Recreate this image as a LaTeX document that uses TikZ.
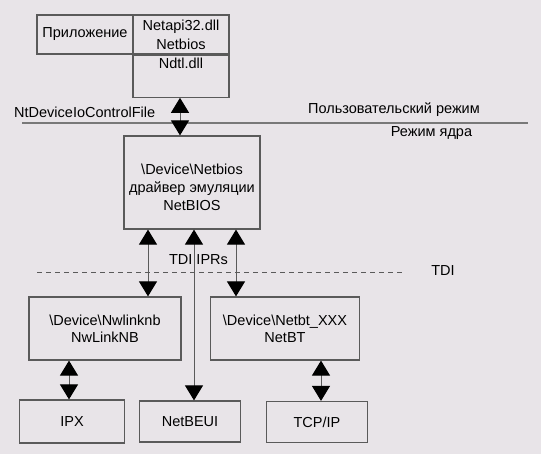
\documentclass[tikz,border=0pt]{standalone}
\usepackage{fontspec}
\setmainfont{Liberation Sans}
\usetikzlibrary{arrows.meta,positioning}
\definecolor{bg}{HTML}{E8E4E8}
\definecolor{edge}{HTML}{5A5A5A}
\definecolor{modeline}{HTML}{787878}
\begin{document}
\begin{tikzpicture}[x=1pt, y=-1pt,
    every node/.style={font=\fontsize{14.5}{17}\selectfont, align=center, inner sep=0pt},
    box/.style={draw=edge, line width=1.2pt},
    link/.style={draw=edge, line width=1pt, {Triangle[width=18pt,length=15pt,black]}-{Triangle[width=18pt,length=15pt,black]}}]
    \fill[bg] (0,0) rectangle (541,454);
    \useasboundingbox (0,0) rectangle (541,454);

    \node (app) [box, minimum width=96, minimum height=39] at (85,34.5) {Приложение};
    \node (netapi) [box, minimum width=96, minimum height=39, font=\fontsize{14.5}{19}\selectfont]
        at (181,34.5) {Netapi32.dll\\Netbios};
    \node (ndtl) [box, minimum width=96, minimum height=42, below=0pt of netapi,
        label={[anchor=north, yshift=-3pt]north:Ndtl.dll}] {};
    \node (driver) [box, minimum width=136, minimum height=93, at={(192,182.5)},
        label={[yshift=-5pt, font=\fontsize{14.5}{18}\selectfont]center:\textbackslash Device\textbackslash Netbios\\драйвер эмуляции\\NetBIOS}] {};
    \node (nwlink) [box, minimum width=152, minimum height=63] at (105,328.5)
        {\textbackslash Device\textbackslash Nwlinknb\\NwLinkNB};
    \node (netbt) [box, minimum width=149, minimum height=63] at (285,328.5)
        {\textbackslash Device\textbackslash Netbt\_XXX\\NetBT};
    \node (ipx) [box, minimum width=105, minimum height=43] at (72,421.5) {IPX};
    \node (netbeui) [box, minimum width=101, minimum height=41] at (190,421.5) {NetBEUI};
    \node (tcpip) [box, minimum width=101, minimum height=41] at (317,422) {TCP/IP};

    % user / kernel border
    \draw[modeline, line width=2pt] (22,123) -- (528,123);
    \node (ioctl) [anchor=west] at (14,112) {NtDeviceIoControlFile};
    \node (user) at (394,110) {Пользовательский режим};
    \node (kernel) at (431.5,133) {Режим ядра};

    % TDI border
    \draw[edge, line width=1pt, dash pattern=on 5pt off 4pt] (37,273) -- (402,273);
    \node (tdi) at (443,271) {TDI};
    \node (iprs) at (198.5,260) {TDI IPRs};

    \draw[link] ([xshift=-1pt]ndtl.south) -- ([xshift=-12pt]driver.north);
    \draw[link] ([xshift=-44pt]driver.south) -- ([xshift=43pt]nwlink.north);
    \draw[link] ([xshift=2pt]driver.south) -- ([xshift=4pt]netbeui.north);
    \draw[link] ([xshift=44pt]driver.south) -- ([xshift=-49pt]netbt.north);
    \draw[link] ([xshift=-36pt]nwlink.south) -- ([xshift=-3pt]ipx.north);
    \draw[link] ([xshift=36pt]netbt.south) -- ([xshift=4pt]tcpip.north);
\end{tikzpicture}
\end{document}
